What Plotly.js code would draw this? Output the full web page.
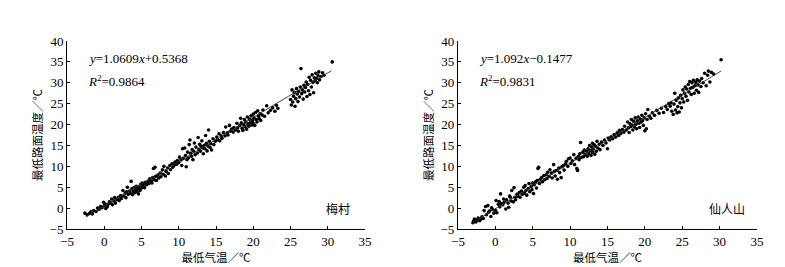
<!DOCTYPE html>
<html><head><meta charset="utf-8">
<script src="https://cdn.plot.ly/plotly-3.0.1.min.js"></script>
<style>html,body{margin:0;padding:0;background:#fff}</style>
</head><body>
<div id="chart" style="width:785px;height:267px"></div>
<script>
// 梅村 scatter points [x, y]
const meicunPoints = [
[-2.6,-1.2],[-2.3,-1.6],[-2.0,-1.3],[-1.8,-0.9],[-1.6,-1.4],[-1.4,-0.6],[-1.1,-0.8],[-0.9,0.0],[-0.7,-0.3],[-0.5,0.4],[-0.3,0.1],[-0.1,1.4],[0.0,0.6],[0.1,1.0],[0.2,-0.1],[0.4,0.3],[0.5,0.9],
[0.7,1.5],[0.9,1.1],[1.0,2.2],[1.1,0.8],[1.3,1.7],[1.4,2.5],[1.5,1.2],[1.7,2.0],[1.9,2.6],[2.0,1.8],[2.2,3.0],[2.3,2.3],[2.5,4.2],[2.6,2.9],[2.8,3.6],[2.9,2.5],[3.0,3.9],[3.1,5.0],[3.2,3.3],
[3.4,4.1],[3.5,3.5],[3.6,6.4],[3.7,4.6],[3.8,3.2],[3.9,4.0],[4.0,4.9],[4.1,3.7],[4.2,4.3],[4.3,5.2],[4.4,3.9],[4.5,4.6],[4.6,3.4],[4.7,5.0],[4.8,4.2],[4.9,5.7],[5.0,4.8],[5.1,6.0],[5.2,5.3],[5.3,5.8],[5.4,4.9],[5.5,6.2],
[5.7,5.6],[5.9,6.4],[6.0,5.9],[6.1,7.0],[6.3,6.5],[6.4,6.0],[6.5,7.3],[6.6,9.5],[6.7,6.8],[6.8,9.8],[6.9,7.6],[7.0,6.6],[7.2,7.9],[7.3,7.2],[7.5,8.4],[7.6,7.5],[7.8,9.2],[7.9,8.1],[8.0,10.0],[8.2,7.7],[8.3,8.8],[8.5,9.6],[8.6,8.3],[8.8,10.2],[8.9,9.2],
[9.1,10.6],[9.2,9.8],[9.4,10.3],[9.5,11.0],[9.7,10.5],[9.8,11.4],[10.0,10.9],[10.1,12.2],[10.3,11.5],[10.4,10.2],[10.5,14.2],[10.6,11.9],[10.8,14.4],[10.9,12.6],[11.0,9.9],[11.1,11.6],[11.2,13.4],[11.3,12.0],[11.4,15.2],[11.5,16.3],[11.6,13.1],[11.7,12.4],[11.8,14.0],[11.9,11.6],[12.0,13.6],[12.1,15.6],[12.2,12.8],[12.3,14.6],
[12.5,13.2],[12.6,16.9],[12.7,14.1],[12.8,15.3],[12.9,13.6],[13.0,14.8],[13.1,16.1],[13.2,14.4],[13.3,13.0],[13.4,15.0],[13.5,14.2],[13.6,17.4],[13.7,15.5],[13.8,13.7],[13.9,14.9],[14.0,18.7],[14.1,16.0],[14.2,14.5],[14.3,15.4],[14.4,13.9],[14.6,16.6],[14.7,15.2],[14.9,16.0],
[15.1,17.0],[15.2,16.4],[15.4,17.8],[15.5,16.1],[15.7,17.3],[15.8,16.7],[16.0,18.1],[16.2,17.3],[16.3,19.4],[16.5,18.0],[16.6,17.5],[16.8,19.8],[16.9,18.4],[17.1,18.9],[17.3,18.2],[17.4,19.3],[17.6,18.7],[17.8,20.3],[17.9,19.2],[18.0,18.4],
[18.2,19.8],[18.3,21.5],[18.4,20.4],[18.5,19.1],[18.6,18.6],[18.7,20.0],[18.8,21.2],[18.9,19.5],[19.0,20.6],[19.1,18.9],[19.2,21.8],[19.3,20.1],[19.4,19.6],[19.5,21.3],[19.6,20.5],[19.7,22.1],[19.8,19.9],[19.9,21.0],[20.0,20.3],[20.0,22.5],[20.1,21.6],[20.2,19.8],[20.3,22.9],[20.4,21.2],[20.5,20.6],[20.6,23.3],[20.7,22.0],[20.8,21.4],[20.9,22.6],[21.0,21.0],[21.2,22.3],[21.3,23.5],[21.5,22.0],
[21.8,24.5],[22.0,22.8],[22.3,23.4],[22.6,24.0],[22.9,23.2],[23.1,24.6],[23.3,23.9],
[25.0,26.0],[25.1,24.7],[25.2,28.3],[25.3,25.4],[25.4,26.8],[25.5,27.7],[25.6,24.4],[25.7,26.2],[25.8,28.6],[25.9,27.3],[26.0,25.5],[26.1,27.9],[26.2,26.6],[26.3,29.0],[26.4,33.4],[26.5,27.4],[26.6,28.3],[26.7,26.1],[26.8,29.4],[26.9,27.8],[27.0,28.9],[27.1,30.2],[27.2,26.7],[27.3,29.6],[27.4,28.1],[27.5,31.3],[27.6,27.2],[27.7,30.6],[27.8,29.0],[27.9,31.9],[28.0,30.1],[28.1,27.6],[28.2,31.2],[28.3,30.5],[28.4,32.3],[28.5,31.0],[28.6,30.0],[28.7,31.7],[28.8,32.6],[28.9,30.7],[29.1,31.5],[29.3,32.4],[29.5,31.8],[30.6,35.0]
];
// 仙人山 scatter points [x, y]
const xianrenshanPoints = [
[-3.0,-3.5],[-2.9,-3.1],[-2.8,-2.6],[-2.6,-3.3],[-2.5,-2.9],[-2.3,-2.4],[-2.1,-3.0],[-2.0,-2.7],[-1.8,-2.1],[-1.6,-2.5],[-1.5,-0.6],[-1.3,0.4],[-1.2,-1.6],[-1.0,0.6],[-0.9,-1.0],[-0.8,-0.7],[-0.6,-2.0],[-0.5,0.1],[-0.4,-0.3],[-0.2,-1.2],[0.0,-0.5],[0.1,1.8],[0.2,-1.1],
[0.4,0.9],[0.5,1.6],[0.6,0.3],[0.7,3.4],[0.8,1.1],[1.0,0.8],[1.1,2.2],[1.2,1.4],[1.4,-0.2],[1.5,2.0],[1.7,1.2],[1.8,0.2],[1.9,2.9],[2.0,2.6],[2.1,1.7],[2.2,4.2],[2.4,1.5],[2.5,4.9],[2.6,2.6],[2.7,2.0],[2.9,3.3],[3.0,2.8],
[3.2,3.7],[3.3,2.6],[3.5,4.1],[3.6,3.3],[3.8,5.0],[3.9,3.6],[4.0,5.4],[4.1,4.2],[4.2,3.1],[4.4,4.7],[4.5,5.9],[4.6,3.9],[4.8,5.2],[4.9,4.4],[5.0,6.0],[5.1,3.5],[5.2,5.6],[5.4,6.3],[5.5,4.8],[5.6,6.6],[5.7,9.5],[5.8,9.8],[5.9,5.9],[6.0,6.9],
[6.2,7.3],[6.3,6.3],[6.5,7.8],[6.6,6.8],[6.8,8.0],[6.9,7.1],[7.0,8.6],[7.2,7.6],[7.3,9.2],[7.5,8.4],[7.6,7.2],[7.8,10.4],[7.9,8.8],[8.0,7.7],[8.2,9.0],[8.3,6.9],[8.5,9.6],[8.6,8.5],[8.8,7.3],[8.9,9.9],
[9.1,10.2],[9.2,9.1],[9.4,10.6],[9.5,11.2],[9.7,10.0],[9.8,11.8],[10.0,12.0],[10.1,10.7],[10.3,11.3],[10.5,12.8],[10.6,10.4],[10.8,11.9],[10.9,9.5],[11.0,9.0],[11.1,12.4],[11.2,11.6],[11.3,13.0],[11.4,15.7],[11.5,12.1],[11.7,13.4],[11.8,12.3],[11.9,13.9],[12.0,12.8],
[12.2,13.6],[12.3,12.4],[12.4,14.2],[12.5,13.1],[12.6,15.0],[12.7,13.8],[12.8,12.6],[12.9,14.6],[13.0,15.5],[13.0,13.3],[13.1,14.1],[13.2,15.2],[13.3,12.9],[13.4,14.8],[13.5,13.6],[13.6,16.0],[13.7,14.4],[13.9,15.3],[14.0,14.0],[14.2,15.8],[14.4,15.0],[14.6,16.3],[14.8,15.6],[15.0,14.2],[15.1,16.8],
[15.3,16.3],[15.5,17.1],[15.7,16.6],[15.9,17.6],[16.1,17.0],[16.3,18.0],[16.5,17.4],[16.6,18.6],[16.8,17.9],[17.0,18.8],[17.2,18.2],[17.3,19.6],[17.5,18.7],[17.7,20.6],[17.8,19.2],[17.9,18.1],
[18.0,20.2],[18.1,19.5],[18.2,21.2],[18.3,19.9],[18.4,18.7],[18.5,20.8],[18.6,19.4],[18.7,21.6],[18.8,20.1],[18.9,19.0],[19.0,20.9],[19.1,21.8],[19.2,20.3],[19.3,19.3],[19.4,21.3],[19.5,20.6],[19.6,22.2],[19.7,20.9],[19.8,19.8],[19.9,21.6],[20.0,18.5],[20.1,22.6],[20.2,19.0],[20.3,21.2],[20.4,23.6],[20.6,22.0],[20.8,21.5],
[21.0,22.8],[21.3,22.2],[21.6,23.4],[21.9,22.7],[22.2,23.9],[22.5,22.9],[22.8,24.3],[23.0,23.6],[23.2,25.0],[23.4,24.4],[23.5,25.2],[23.6,23.2],[23.8,22.4],[23.9,24.9],[24.0,27.5],[24.1,23.5],[24.2,25.8],[24.3,22.8],[24.4,24.3],[24.5,26.4],[24.6,23.0],[24.7,25.2],[24.8,27.0],[24.9,24.0],
[25.0,26.2],[25.1,28.3],[25.2,25.4],[25.3,27.5],[25.4,29.0],[25.5,26.8],[25.6,28.5],[25.7,25.8],[25.8,29.6],[25.9,27.8],[26.0,30.3],[26.1,28.7],[26.2,27.2],[26.3,30.0],[26.4,28.9],[26.5,30.6],[26.6,27.5],[26.7,29.3],[26.8,30.1],[26.9,28.2],[27.0,30.7],[27.1,29.5],[27.2,27.7],[27.3,30.4],[27.5,29.1],[27.6,31.0],[27.8,30.0],[28.0,32.3],[28.2,29.3],[28.4,31.8],[28.5,32.8],[28.7,30.2],[28.9,32.5],[29.2,32.1],[30.2,35.5]
];

// regression fits
const fitMeicun = {slope: 1.0609, intercept: 0.5368, r2: 0.9864, xmin: -2.5, xmax: 30.5};
const fitXianrenshan = {slope: 1.092, intercept: -0.1477, r2: 0.9831, xmin: -3.0, xmax: 30.2};

const stationNames = ["梅村", "仙人山"];
const xTickVals = [-5, 0, 5, 10, 15, 20, 25, 30, 35];
const yTickVals = [-5, 0, 5, 10, 15, 20, 25, 30, 35, 40];
const xTitle = "最低气温／℃";
const yTitle = "最低路面温度／℃";

function fmt(v){ return v < 0 ? "\u2212" + Math.abs(v) : String(v); }
const serif = "Liberation Serif, Times New Roman, serif";
const cjk = "Noto Sans CJK SC, sans-serif";

const traces = [];
[[meicunPoints, fitMeicun, "x", "y"], [xianrenshanPoints, fitXianrenshan, "x2", "y2"]].forEach(([pts, fit, xa, ya]) => {
  traces.push({
    type: "scatter", mode: "markers", xaxis: xa, yaxis: ya,
    x: pts.map(p => p[0]), y: pts.map(p => p[1]),
    marker: {color: "#000", size: 3.6}, hoverinfo: "skip"
  });
  traces.push({
    type: "scatter", mode: "lines", xaxis: xa, yaxis: ya,
    x: [fit.xmin, fit.xmax],
    y: [fit.slope * fit.xmin + fit.intercept, fit.slope * fit.xmax + fit.intercept],
    line: {color: "#333", width: 0.9}, hoverinfo: "skip"
  });
});

function axisX(domain, anchor){
  return {
    domain: domain, anchor: anchor, range: [-5, 35], autorange: false,
    tickvals: xTickVals, ticktext: xTickVals.map(fmt),
    showline: true, linecolor: "#000", linewidth: 1, mirror: false,
    ticks: "inside", ticklen: 3, tickcolor: "#000", showgrid: false, zeroline: false,
    tickfont: {family: serif, size: 13, color: "#000"},
    title: {text: xTitle, font: {family: cjk, size: 11.5, color: "#000"}, standoff: 3},
    automargin: false
  };
}
function axisY(domain, anchor){
  return {
    domain: domain, anchor: anchor, range: [-5, 40], autorange: false,
    tickvals: yTickVals, ticktext: yTickVals.map(fmt),
    showline: true, linecolor: "#000", linewidth: 1, mirror: false,
    ticks: "inside", ticklen: 3, tickcolor: "#000", showgrid: false, zeroline: false,
    tickfont: {family: serif, size: 13, color: "#000"},
    title: {text: yTitle, font: {family: cjk, size: 11.5, color: "#000"}, standoff: 4},
    automargin: false
  };
}

const yDom = [0.1423, 0.8464];
const layout = {
  width: 785, height: 267,
  margin: {l: 0, r: 0, t: 0, b: 0},
  paper_bgcolor: "#fff", plot_bgcolor: "#fff",
  showlegend: false,
  xaxis: axisX([0.0854, 0.465], "y"),
  yaxis: axisY(yDom, "x"),
  xaxis2: axisX([0.5834, 0.9643], "y2"),
  yaxis2: axisY(yDom, "x2"),
  annotations: [
    {xref: "x", yref: "y", x: -2.4, y: 35.7, xanchor: "left", showarrow: false,
     text: "<i>y</i>=1.0609<i>x</i>+0.5368", font: {family: serif, size: 13, color: "#000"}},
    {xref: "x", yref: "y", x: -2.4, y: 30.4, xanchor: "left", showarrow: false,
     text: "<i>R</i><sup>2</sup>=" + fitMeicun.r2.toFixed(4), font: {family: serif, size: 13, color: "#000"}},
    {xref: "x", yref: "y", x: 31.4, y: -0.2, xanchor: "center", showarrow: false,
     text: stationNames[0], font: {family: cjk, size: 12, color: "#000"}},
    {xref: "x2", yref: "y2", x: -2.4, y: 35.7, xanchor: "left", showarrow: false,
     text: "<i>y</i>=1.092<i>x</i>\u22120.1477", font: {family: serif, size: 13, color: "#000"}},
    {xref: "x2", yref: "y2", x: -2.4, y: 30.4, xanchor: "left", showarrow: false,
     text: "<i>R</i><sup>2</sup>=" + fitXianrenshan.r2.toFixed(4), font: {family: serif, size: 13, color: "#000"}},
    {xref: "x2", yref: "y2", x: 31.0, y: -0.2, xanchor: "center", showarrow: false,
     text: stationNames[1], font: {family: cjk, size: 12, color: "#000"}}
  ]
};

Plotly.newPlot("chart", traces, layout, {staticPlot: true, displayModeBar: false});
</script>
</body></html>
